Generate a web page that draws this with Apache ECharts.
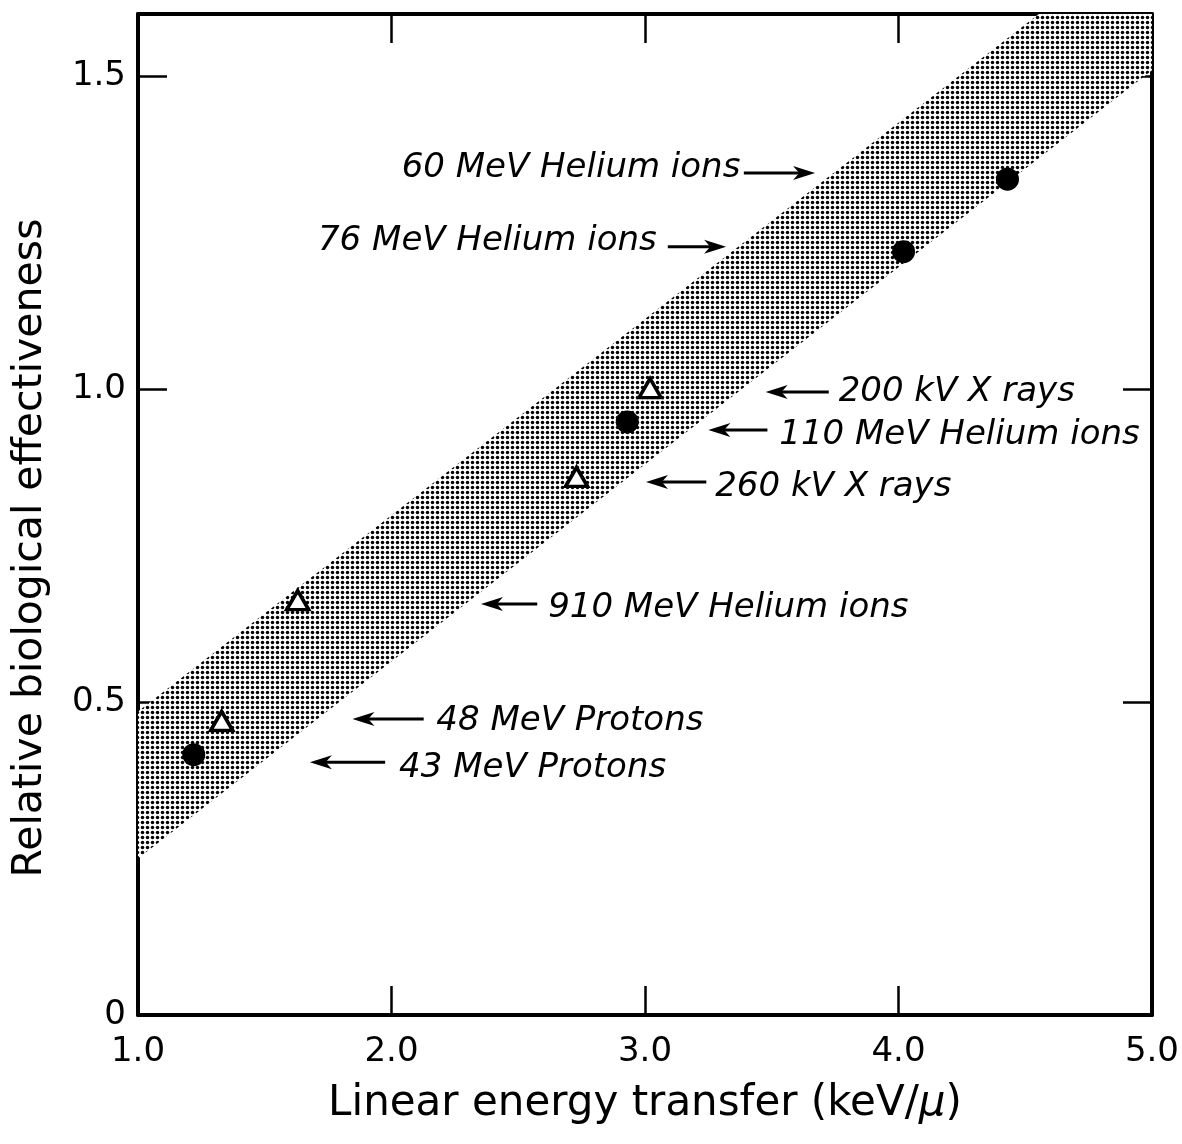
<!DOCTYPE html>
<html>
<head>
<meta charset="utf-8">
<script src="https://cdn.jsdelivr.net/npm/echarts@6/dist/echarts.min.js"></script>
<style>
  html, body { margin: 0; padding: 0; background: #fff; }
  #chart { width: 1182px; height: 1144px; }
</style>
</head>
<body>
<div id="chart"></div>
<script>
// filled circles (helium ions / protons)
const circleLet = [1.22, 2.93, 4.02, 4.43];
const circleRbe = [0.416, 0.948, 1.22, 1.336];

// open triangles (X rays / helium / protons)
const triangleLet = [1.33, 1.63, 2.73, 3.02];
const triangleRbe = [0.47, 0.663, 0.86, 1.002];

// shaded band, edges given at the two ends
const bandLet = [1.0, 5.0];
const bandUpper = [0.485, 1.74];
const bandLower = [0.25, 1.51];

// annotations: text start, arrow tail and tip
const labels = [
  "60 MeV Helium ions",
  "76 MeV Helium ions",
  "200 kV X rays",
  "110 MeV Helium ions",
  "260 kV X rays",
  "910 MeV Helium ions",
  "48 MeV Protons",
  "43 MeV Protons",
];
const labelX = [2.04, 1.71, 3.764, 3.53, 3.277, 2.618, 2.177, 2.03];
const labelY = [1.354, 1.237, 0.996, 0.927, 0.844, 0.651, 0.47, 0.395];
const arrowY = [1.346, 1.228, 0.996, 0.935, 0.852, 0.657, 0.473, 0.404];
const arrowFrom = [3.39, 3.09, 3.725, 3.483, 3.242, 2.575, 2.127, 1.975];
const arrowTo = [3.671, 3.32, 3.476, 3.25, 3.004, 2.353, 1.846, 1.678];

const font = '"DejaVu Sans", sans-serif';

// dot screen for the band
const dots = document.createElement("canvas");
dots.width = 5;
dots.height = 5;
const ctx = dots.getContext("2d");
ctx.fillStyle = "#fff";
ctx.fillRect(0, 0, 5, 5);
ctx.fillStyle = "#000";
ctx.beginPath();
ctx.arc(2.5, 2.5, 1.75, 0, Math.PI * 2);
ctx.fill();

const axisLine = { onZero: false, lineStyle: { color: "#000", width: 4 } };
const axisTick = { inside: true, length: 29, lineStyle: { color: "#000", width: 2.5 } };

let options = {
  animation: false,
  backgroundColor: "#fff",
  grid: { left: 138, right: 18, top: 14, bottom: 129 },
  xAxis: [
    {
      type: "value",
      min: 1,
      max: 5,
      interval: 1,
      position: "bottom",
      axisLine,
      axisTick,
      splitLine: { show: false },
      axisLabel: {
        margin: 20,
        fontFamily: font,
        fontSize: 34,
        color: "#000",
        showMinLabel: true,
        showMaxLabel: true,
        formatter: (v) => v.toFixed(1),
      },
      name: "Linear energy transfer (keV/{m|μ})",
      nameLocation: "middle",
      nameGap: 68,
      nameTextStyle: {
        fontFamily: font,
        fontSize: 42,
        color: "#000",
        rich: { m: { fontFamily: font, fontSize: 42, fontStyle: "italic", color: "#000" } },
      },
    },
    {
      type: "value",
      min: 1,
      max: 5,
      interval: 1,
      position: "top",
      axisLine,
      axisTick,
      splitLine: { show: false },
      axisLabel: { show: false },
    },
  ],
  yAxis: [
    {
      type: "value",
      min: 0,
      max: 1.6,
      interval: 0.5,
      position: "left",
      axisLine,
      axisTick,
      splitLine: { show: false },
      axisLabel: {
        margin: 12,
        fontFamily: font,
        fontSize: 34,
        color: "#000",
        showMaxLabel: false,
        formatter: (v) => (v === 0 ? "0" : v.toFixed(1)),
      },
    },
    {
      type: "value",
      min: 0,
      max: 1.6,
      interval: 0.5,
      position: "right",
      axisLine,
      axisTick,
      splitLine: { show: false },
      axisLabel: { show: false },
    },
  ],
  graphic: [
    {
      type: "text",
      x: 30,
      y: 548,
      rotation: Math.PI / 2,
      style: {
        text: "Relative biological effectiveness",
        font: '41px "DejaVu Sans"',
        fill: "#000",
        align: "center",
        verticalAlign: "middle",
      },
    },
  ],
  series: [
    {
      type: "custom",
      z: 1,
      data: [0],
      renderItem: function (params, api) {
        let pts = [];
        for (let i = 0; i < bandLet.length; i++) pts.push(api.coord([bandLet[i], bandUpper[i]]));
        for (let i = bandLet.length - 1; i >= 0; i--) pts.push(api.coord([bandLet[i], bandLower[i]]));
        const cs = params.coordSys;
        return {
          type: "polygon",
          shape: { points: pts },
          style: { fill: { image: dots, repeat: "repeat" } },
          clipPath: { type: "rect", shape: { x: cs.x, y: cs.y, width: cs.width, height: cs.height } },
        };
      },
    },
    {
      type: "custom",
      z: 3,
      data: labels.map((_, i) => [labelX[i], labelY[i]]),
      renderItem: function (params, api) {
        const i = params.dataIndex;
        const t = api.coord([labelX[i], labelY[i]]);
        const a = api.coord([arrowFrom[i], arrowY[i]]);
        const b = api.coord([arrowTo[i], arrowY[i]]);
        const dir = b[0] > a[0] ? 1 : -1;
        const len = 22, half = 7;
        return {
          type: "group",
          children: [
            {
              type: "text",
              x: t[0],
              y: t[1],
              style: {
                text: labels[i],
                font: 'italic 34px "DejaVu Sans"',
                fill: "#000",
                align: "left",
                verticalAlign: "middle",
              },
            },
            {
              type: "line",
              shape: { x1: a[0], y1: a[1], x2: b[0] - dir * len * 0.7, y2: b[1] },
              style: { stroke: "#000", lineWidth: 3 },
            },
            {
              type: "polygon",
              shape: {
                points: [
                  [b[0], b[1]],
                  [b[0] - dir * len, b[1] - half],
                  [b[0] - dir * len * 0.72, b[1]],
                  [b[0] - dir * len, b[1] + half],
                ],
              },
              style: { fill: "#000" },
            },
          ],
        };
      },
    },
    {
      type: "scatter",
      z: 5,
      symbol: "circle",
      symbolSize: 23,
      itemStyle: { color: "#000", opacity: 1 },
      data: circleLet.map((x, i) => [x, circleRbe[i]]),
    },
    {
      type: "scatter",
      z: 5,
      symbol: "triangle",
      symbolSize: [22, 19],
      itemStyle: { color: "#fff", borderColor: "#000", borderWidth: 3.5, opacity: 1 },
      data: triangleLet.map((x, i) => [x, triangleRbe[i]]),
    },
  ],
};

var chart = echarts.init(document.getElementById("chart"));
chart.setOption(options);
window.addEventListener("resize", function () {
  chart.resize();
});
</script>
</body>
</html>
